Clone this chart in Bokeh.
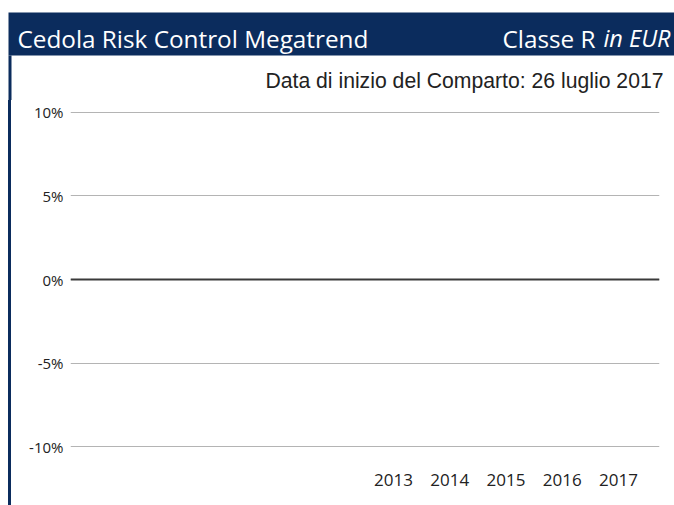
from bokeh.plotting import figure
from bokeh.layouts import column, row, Spacer
from bokeh.models import Range1d, FixedTicker, PrintfTickFormatter, Span
from bokeh.core.properties import value
from bokeh.embed import file_html
from bokeh.resources import INLINE

# ---- data ----
title_left = "Cedola Risk Control Megatrend"
title_class = "Classe R"
title_ccy = "in EUR"
subtitle = "Data di inizio del Comparto: 26 luglio 2017"
years = [2013, 2014, 2015, 2016, 2017]
y_ticks = [-10, -5, 0, 5, 10]
series_values = []  # the chart shows no performance bars

NAVY = "#0b2c5d"
TXT = "#222222"


def blank(width, height, x_end, y_range, fill="white"):
    f = figure(width=width, height=height, output_backend="svg",
               toolbar_location=None, x_axis_type=None, y_axis_type=None,
               x_range=Range1d(0, x_end), y_range=y_range, min_border=0)
    f.min_border_left = f.min_border_right = 0
    f.min_border_top = f.min_border_bottom = 0
    f.outline_line_color = None
    f.background_fill_color = fill
    f.border_fill_color = fill
    f.grid.visible = False
    return f


# ---- header (page-pixel coordinates, y downward) ----
hdr = blank(674, 100, 674, Range1d(100, 0))
hdr.quad(left=[8], right=[674], top=[12], bottom=[55], fill_color=NAVY, line_color=None)
hdr.quad(left=[8], right=[11], top=[55], bottom=[100], fill_color=NAVY, line_color=None)
hdr.text(x=[17], y=[37.8], text=[title_left], text_color="white",
         text_font=value("Open Sans"), text_font_size=value("24.3px"),
         text_baseline="alphabetic", text_align="left")
hdr.text(x=[670], y=[37.8], text=[title_ccy], text_color="white",
         text_font=value("Open Sans"), text_font_size=value("23.5px"),
         text_font_style="italic", text_baseline="alphabetic", text_align="right")
hdr.text(x=[595], y=[37.8], text=[title_class], text_color="white",
         text_font=value("Open Sans"), text_font_size=value("24.3px"),
         text_baseline="alphabetic", text_align="right")
hdr.text(x=[663], y=[79.5], text=[subtitle], text_color=TXT,
         text_font=value("Liberation Sans"), text_font_size=value("21.2px"),
         text_baseline="alphabetic", text_align="right")

# ---- left border strip ----
strip = Spacer(width=3, height=405, styles={"background-color": NAVY})

# ---- chart ----
p = figure(width=663, height=405, output_backend="svg", toolbar_location=None,
           x_range=Range1d(2007.26, 2017.73), y_range=Range1d(-10.479, 10.479),
           min_border_left=59, min_border_right=15,
           min_border_top=4, min_border_bottom=51)
p.outline_line_color = None
p.background_fill_color = "white"
p.border_fill_color = "white"

p.xaxis.ticker = FixedTicker(ticks=years)
p.yaxis.ticker = FixedTicker(ticks=y_ticks)
p.yaxis.formatter = PrintfTickFormatter(format="%d%%")
for ax in (p.xaxis[0], p.yaxis[0]):
    ax.axis_line_color = None
    ax.major_tick_line_color = None
    ax.minor_tick_line_color = None
    ax.major_label_text_font = "Open Sans"
    ax.major_label_text_color = TXT
p.yaxis.major_label_text_font_size = "15px"
p.yaxis.major_label_standoff = 1
p.xaxis.major_label_text_font_size = "17px"
p.xaxis.major_label_standoff = 13

p.xgrid.grid_line_color = None
p.ygrid.ticker = FixedTicker(ticks=y_ticks)
p.ygrid.grid_line_color = "#b4b4b4"
p.ygrid.grid_line_width = 1

p.add_layout(Span(location=0, dimension="width", line_color="#3a3a3a", line_width=2))

layout = column(hdr, row(Spacer(width=8, height=405), strip, p))
open("out.html", "w").write(file_html(layout, INLINE))
